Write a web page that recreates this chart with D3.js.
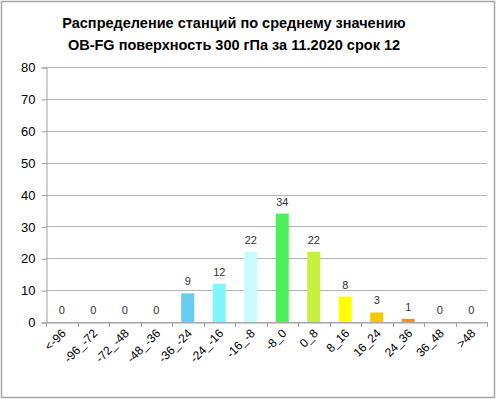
<!DOCTYPE html>
<html>
<head>
<meta charset="utf-8">
<script src="https://cdn.jsdelivr.net/npm/d3@7"></script>
<style>
body { margin: 0; background: #fff; }
svg { display: block; font-family: "Liberation Sans", Arial, sans-serif; }
</style>
</head>
<body>
<script>
// chart data
var categories = ["<-96", "-96_-72", "-72_-48", "-48_-36", "-36_-24", "-24_-16", "-16_-8",
                  "-8_0", "0_8", "8_16", "16_24", "24_36", "36_48", ">48"];
var counts = [0, 0, 0, 0, 9, 12, 22, 34, 22, 8, 3, 1, 0, 0];
var barColors = ["#66ccf2", "#66ccf2", "#66ccf2", "#66ccf2", "#66ccf2", "#7ef6fb", "#c8fbfc",
                 "#4cef5a", "#c6ef3e", "#ffff00", "#f6c800", "#f39214", "#f39214", "#f39214"];
var yTicks = [0, 10, 20, 30, 40, 50, 60, 70, 80];
var titleLines = ["Распределение станций по среднему значению",
                  "OB-FG поверхность  300 гПа за 11.2020 срок  12"];

var W = 496, H = 399;
var margin = {left: 46, right: 9, top: 67, bottom: 77};

var svg = d3.select("body").append("svg")
    .attr("width", W)
    .attr("height", H);

// outer frame
svg.append("rect")
    .attr("x", 1.5).attr("y", 1.5)
    .attr("width", W - 3).attr("height", H - 3)
    .attr("fill", "#fff")
    .attr("stroke", "#a6a6a6")
    .attr("stroke-width", 1.5);

svg.selectAll("text.title")
    .data(titleLines)
    .enter()
    .append("text")
    .attr("class", "title")
    .attr("x", 234)
    .attr("y", function(d, i) { return 28 + i * 22; })
    .attr("text-anchor", "middle")
    .attr("font-size", 14.5)
    .attr("font-weight", "bold")
    .attr("fill", "#000")
    .text(function(d) { return d; });

var x = d3.scaleBand()
    .domain(categories)
    .range([margin.left, W - margin.right]);

var y = d3.scaleLinear()
    .domain([0, 80])
    .range([H - margin.bottom, margin.top]);

// gridlines
svg.append("g")
    .selectAll("line")
    .data(yTicks)
    .enter()
    .append("line")
    .attr("x1", margin.left)
    .attr("x2", W - margin.right)
    .attr("y1", function(d) { return Math.round(y(d)) + 0.5; })
    .attr("y2", function(d) { return Math.round(y(d)) + 0.5; })
    .attr("stroke", "#b3b3b3")
    .attr("stroke-width", 1.2);

// y axis
var yAxis = svg.append("g")
    .attr("transform", "translate(" + (margin.left + 0.5) + ",0.5)")
    .call(d3.axisLeft(y).tickValues(yTicks).tickSize(5).tickPadding(6));
yAxis.selectAll("path, line").attr("stroke", "#a0a0a0");
yAxis.selectAll("text").attr("font-size", 13).attr("fill", "#000");

// x axis
var xAxis = svg.append("g")
    .attr("transform", "translate(0," + (Math.round(y(0)) + 0.5) + ")")
    .call(d3.axisBottom(x).tickSize(0).tickSizeOuter(0).tickFormat(""));
xAxis.select("path").attr("stroke", "#a0a0a0");

// x ticks between categories
svg.append("g")
    .selectAll("line")
    .data(categories.concat(["end"]))
    .enter()
    .append("line")
    .attr("x1", function(d, i) { return Math.round(margin.left + i * x.step()) + 0.5; })
    .attr("x2", function(d, i) { return Math.round(margin.left + i * x.step()) + 0.5; })
    .attr("y1", Math.round(y(0)))
    .attr("y2", Math.round(y(0)) + 5)
    .attr("stroke", "#a0a0a0");

// x labels
svg.append("g")
    .selectAll("text")
    .data(categories)
    .enter()
    .append("text")
    .attr("transform", function(d) {
        return "translate(" + (x(d) + x.bandwidth() / 2 + 5) + "," + (y(0) + 12) + ") rotate(-45)";
    })
    .attr("text-anchor", "end")
    .attr("font-size", 12)
    .attr("fill", "#000")
    .text(function(d) { return d; });

// bars
var barW = 13;
svg.append("g")
    .selectAll("rect")
    .data(counts)
    .enter()
    .append("rect")
    .attr("x", function(d, i) { return x(categories[i]) + x.bandwidth() / 2 - barW / 2; })
    .attr("y", function(d) { return y(d); })
    .attr("width", barW)
    .attr("height", function(d) { return y(0) - y(d); })
    .attr("fill", function(d, i) { return barColors[i]; });

// value labels
svg.append("g")
    .selectAll("text")
    .data(counts)
    .enter()
    .append("text")
    .attr("x", function(d, i) { return x(categories[i]) + x.bandwidth() / 2; })
    .attr("y", function(d) { return y(d) - 8; })
    .attr("text-anchor", "middle")
    .attr("font-size", 11)
    .attr("fill", "#333")
    .text(function(d) { return d; });
</script>
</body>
</html>
